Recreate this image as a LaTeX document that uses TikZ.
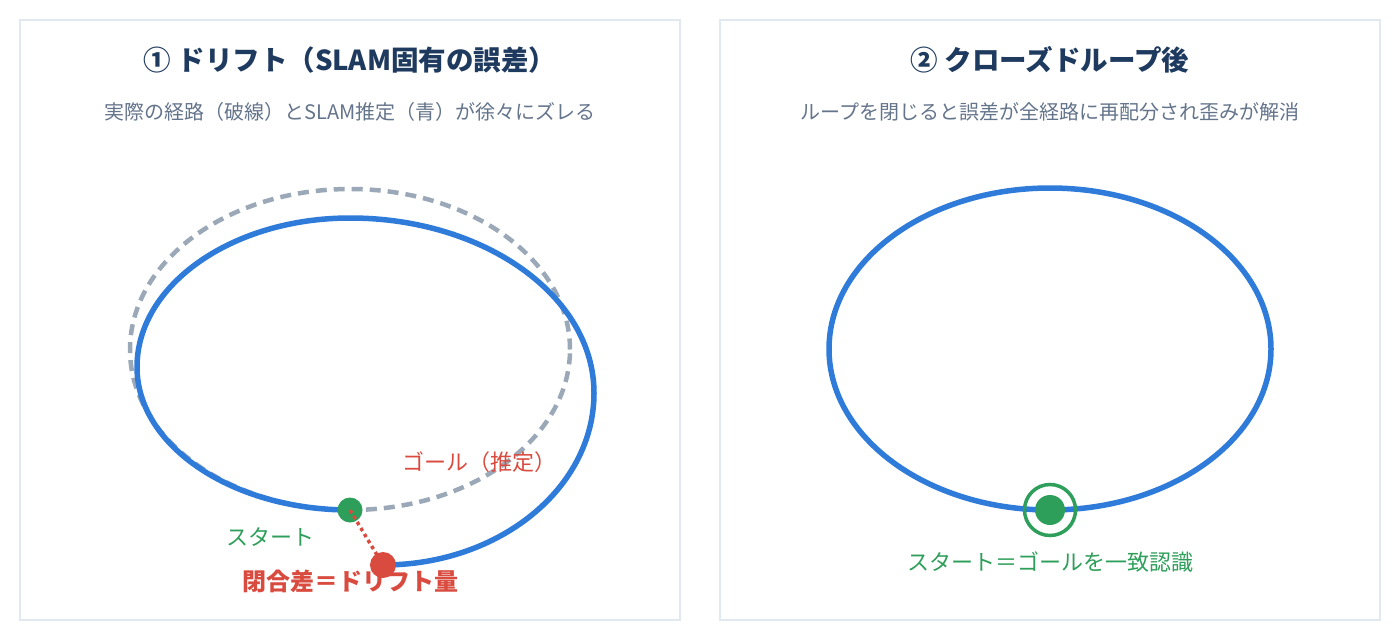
\documentclass[tikz,border=0pt]{standalone}
\usepackage{fontspec}
\setmainfont{Noto Sans CJK JP}
\definecolor{panelborder}{HTML}{E2E8F0}
\definecolor{titlecol}{HTML}{1E3A5F}
\definecolor{subcol}{HTML}{64748B}
\definecolor{pathblue}{HTML}{2F7BD9}
\definecolor{truegray}{HTML}{9AA8B8}
\definecolor{startgreen}{HTML}{2E9F5A}
\definecolor{goalred}{HTML}{D94B3F}
\tikzset{
  panel/.style={draw=panelborder, line width=1.5pt, fill=white},
  titletext/.style={font=\fontsize{27.5}{32}\selectfont\bfseries, text=titlecol, inner sep=0pt},
  subtext/.style={font=\fontsize{20}{24}\selectfont, text=subcol, inner sep=0pt},
  estpath/.style={draw=pathblue, line width=5.5pt},
  truepath/.style={draw=truegray, line width=4.5pt, dash pattern=on 11pt off 7pt},
  dotnode/.style={circle, inner sep=0pt, minimum size=#1},
  lbl/.style={inner sep=0pt, font=\fontsize{22}{26}\selectfont}
}
\begin{document}
\begin{tikzpicture}[x=1pt,y=-1pt]
\useasboundingbox (0,0) rectangle (1400,640);
% panels
\node[panel, minimum width=660pt, minimum height=600pt, inner sep=0pt] (p1) at (350,320) {};
\node[panel, minimum width=660pt, minimum height=600pt, inner sep=0pt] (p2) at (1050,320) {};
% titles
\node[titletext] (t1) at (350,60) {① ドリフト（SLAM固有の誤差）};
\node[subtext] (s1) at (350,112) {実際の経路（破線）とSLAM推定（青）が徐々にズレる};
\node[titletext] (t2) at (1050,60) {② クローズドループ後};
\node[subtext] (s2) at (1050,112) {ループを閉じると誤差が全経路に再配分され歪みが解消};
% left: true path (dashed)
\draw[truepath] (350,349.5) ellipse[x radius=220pt, y radius=160.5pt];
% coordinates
\coordinate (sp) at (350,510);
\coordinate (gp) at (383,565);
% estimated path (blue spiral)
\draw[estpath] (sp) .. controls (232.4,510) and (137,446) .. (137,367)
  .. controls (137,284.7) and (232.4,218) .. (350,218)
  .. controls (484.8,218) and (594,296.3) .. (594,393)
  .. controls (594,488) and (499.5,565) .. (gp);
\node[dotnode=25pt, fill=startgreen] (start) at (sp) {};
\draw[draw=goalred, line width=3.5pt, dash pattern=on 3.5pt off 3.5pt] (start.center) -- (gp);
\node[dotnode=26pt, fill=goalred] (goal) at (gp) {};
\node[lbl, text=goalred] (goallbl) at (479,462) {ゴール（推定）};
\node[lbl, text=startgreen] (startlbl) at (270,537) {スタート};
\node[lbl, text=goalred, font=\fontsize{24}{28}\selectfont\bfseries] (gaplbl) at (350,581) {閉合差＝ドリフト量};
% right panel
\draw[estpath] (1050,349) ellipse[x radius=221pt, y radius=161pt];
\node[dotnode=30pt, fill=startgreen] (sg) at (1050,510) {};
\node[dotnode=51pt, draw=startgreen, line width=3.5pt] (ring) at (1050,510) {};
\node[lbl, text=startgreen] (sglbl) at (1050,562) {スタート＝ゴールを一致認識};
\end{tikzpicture}
\end{document}
